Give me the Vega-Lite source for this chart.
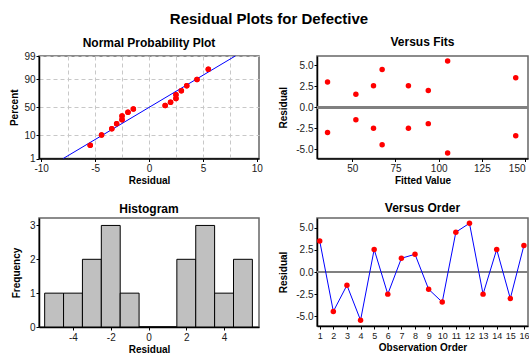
{
  "$schema": "https://vega.github.io/schema/vega-lite/v6.json",
  "padding": {"left": 8, "top": 12, "right": 0, "bottom": 0},
  "background": "white",
  "title": {"text": "Residual Plots for Defective", "font": "Liberation Sans", "fontSize": 15, "fontWeight": "bold", "color": "#000", "anchor": "middle", "offset": -4, "baseline": "alphabetic"},
  "config": {
    "locale": {"number": {"decimal": ".", "thousands": ",", "grouping": [3], "currency": ["$", ""], "minus": "-"}},
    "view": {"stroke": "#666666", "strokeWidth": 1.5},
    "axis": {"labelFont": "Liberation Sans", "labelFontSize": 10, "labelColor": "#1a1a1a", "titleFont": "Liberation Sans", "titleFontSize": 10, "titleFontWeight": "bold", "titleColor": "#000", "tickColor": "#000", "tickSize": 3, "domainColor": "#000", "domainWidth": 1.5, "grid": false, "labelPadding": 1, "labelOverlap": false, "tickCount": 30},
    "title": {"font": "Liberation Sans", "fontSize": 12, "fontWeight": "bold", "color": "#000", "baseline": "alphabetic"}
  },
  "columns": 2,
  "spacing": {"row": 59, "column": 58},
  "bounds": "flush",
  "concat": [
    {
      "title": {"text": "Normal Probability Plot", "offset": 1.5},
      "width": 220,
      "height": 102.5,
      "layer": [
        {
          "data": {"name": "npp"},
          "mark": {"type": "circle", "color": "#ff0000", "size": 30, "opacity": 1},
          "encoding": {
            "x": {"field": "residual", "type": "quantitative", "scale": {"domain": [-10.2, 10.2], "nice": false, "zero": false},
              "axis": {"title": "Residual", "values": [-10, -7.5, -5, -2.5, 0, 2.5, 5, 7.5, 10], "format": "d", "tickCount": 30, "grid": true, "gridColor": "#c8c8c8", "gridDash": [4, 3], "labelOverlap": false,
                "gridOpacity": {"condition": {"test": "abs(datum.value) >= 10", "value": 0}, "value": 1},
                "tickOpacity": {"condition": {"test": "datum.value % 5 != 0", "value": 0}, "value": 1},
                "labelExpr": "datum.value % 5 == 0 ? datum.label : ''", "labelPadding": 2, "titlePadding": 2}},
            "y": {"field": "score", "type": "quantitative", "scale": {"domain": [-2.3263, 2.3263], "nice": false, "zero": false},
              "axis": {"title": "Percent", "values": [-2.3263, -1.2816, 0, 1.2816, 2.3263], "tickCount": 30, "grid": true, "gridColor": "#c8c8c8", "gridDash": [4, 3], "labelOverlap": false,
                "labelExpr": "datum.value < -2 ? '1' : datum.value < -1 ? '10' : datum.value < 1 ? '50' : datum.value < 2 ? '90' : '99'",
                "minExtent": 13, "maxExtent": 13, "titlePadding": 7}}
          }
        },
        {
          "data": {"name": "fitline"},
          "mark": {"type": "line", "color": "#0000ff", "strokeWidth": 1},
          "encoding": {
            "x": {"field": "residual", "type": "quantitative"},
            "y": {"field": "score", "type": "quantitative"}
          }
        },
        {
          "data": {"name": "npp"},
          "mark": {"type": "circle", "color": "#ff0000", "size": 30, "opacity": 1},
          "encoding": {
            "x": {"field": "residual", "type": "quantitative"},
            "y": {"field": "score", "type": "quantitative"}
          }
        }
      ]
    },
    {
      "title": {"text": "Versus Fits", "offset": 7},
      "width": 211,
      "height": 102.5,
      "layer": [
        {
          "data": {"name": "fits"},
          "mark": {"type": "rule", "color": "#808080", "strokeWidth": 2},
          "encoding": {"y": {"datum": 0, "type": "quantitative", "scale": {"domain": [-6.1, 6.1], "nice": false, "zero": false}}}
        },
        {
          "data": {"name": "fits"},
          "mark": {"type": "circle", "color": "#ff0000", "size": 30, "opacity": 1},
          "encoding": {
            "x": {"field": "fit", "type": "quantitative", "scale": {"domain": [29.6, 151.7], "nice": false, "zero": false},
              "axis": {"title": "Fitted Value", "values": [50, 75, 100, 125, 150], "format": "d", "tickCount": 30, "labelPadding": 2, "titlePadding": 2,
                "labelAlign": {"condition": {"test": "datum.value >= 150", "value": "right"}, "value": "center"}}},
            "y": {"field": "residual", "type": "quantitative", "scale": {"domain": [-6.1, 6.1], "nice": false, "zero": false},
              "axis": {"title": "Residual", "values": [-5, -2.5, 0, 2.5, 5], "tickCount": 30, "format": ".1f", "minExtent": 18, "maxExtent": 18, "titlePadding": 11}}
          }
        }
      ]
    },
    {
      "title": {"text": "Histogram", "offset": 2.2},
      "width": 220,
      "height": 109,
      "data": {"name": "hist"},
      "mark": {"type": "bar", "fill": "#c0c0c0", "stroke": "#000", "strokeWidth": 1},
      "encoding": {
        "x": {"field": "bin_start", "type": "quantitative", "scale": {"domain": [-5.8, 5.85], "nice": false, "zero": false},
          "axis": {"title": "Residual", "values": [-4, -2, 0, 2, 4], "format": "d", "tickCount": 30, "labelPadding": 2, "titlePadding": 2}},
        "x2": {"field": "bin_end"},
        "y": {"field": "count", "type": "quantitative", "scale": {"domain": [0, 3.22], "nice": false},
          "axis": {"title": "Frequency", "values": [0, 1, 2, 3], "format": "d", "tickCount": 30, "minExtent": 10, "maxExtent": 10, "titlePadding": 8}},
        "y2": {"datum": 0}
      }
    },
    {
      "title": {"text": "Versus Order", "offset": 3.2},
      "width": 211,
      "height": 108,
      "layer": [
        {
          "data": {"name": "order"},
          "mark": {"type": "rule", "color": "#808080", "strokeWidth": 2},
          "encoding": {"y": {"datum": 0, "type": "quantitative", "scale": {"domain": [-6.1, 6.1], "nice": false, "zero": false}}}
        },
        {
          "data": {"name": "order"},
          "mark": {"type": "line", "color": "#0000ff", "strokeWidth": 1},
          "encoding": {
            "x": {"field": "obs", "type": "quantitative", "scale": {"domain": [0.8, 16.3], "nice": false, "zero": false},
              "axis": {"title": "Observation Order", "values": [1, 2, 3, 4, 5, 6, 7, 8, 9, 10, 11, 12, 13, 14, 15, 16], "format": "d", "tickCount": 30, "labelFontSize": 9, "labelPadding": 2, "titlePadding": 2}},
            "y": {"field": "residual", "type": "quantitative", "scale": {"domain": [-6.1, 6.1], "nice": false, "zero": false},
              "axis": {"title": "Residual", "values": [-5, -2.5, 0, 2.5, 5], "tickCount": 30, "format": ".1f", "minExtent": 18, "maxExtent": 18, "titlePadding": 11}}
          }
        },
        {
          "data": {"name": "order"},
          "mark": {"type": "circle", "color": "#ff0000", "size": 30, "opacity": 1},
          "encoding": {
            "x": {"field": "obs", "type": "quantitative"},
            "y": {"field": "residual", "type": "quantitative"}
          }
        }
      ]
    }
  ],
  "datasets": {
    "npp": [
      {"residual": -5.45, "score": -1.720},
      {"residual": -4.4, "score": -1.261},
      {"residual": -3.45, "score": -0.976},
      {"residual": -3.0, "score": -0.753},
      {"residual": -2.5, "score": -0.564},
      {"residual": -2.5, "score": -0.392},
      {"residual": -1.95, "score": -0.2315},
      {"residual": -1.45, "score": -0.0765},
      {"residual": 1.5, "score": 0.0765},
      {"residual": 2.0, "score": 0.2315},
      {"residual": 2.5, "score": 0.392},
      {"residual": 2.5, "score": 0.564},
      {"residual": 3.0, "score": 0.753},
      {"residual": 3.5, "score": 0.976},
      {"residual": 4.45, "score": 1.261},
      {"residual": 5.5, "score": 1.720}
    ],
    "fitline": [
      {"residual": -7.95, "score": -2.3263},
      {"residual": 8.0, "score": 2.3263}
    ],
    "fits": [
      {"fit": 35.7, "residual": 3.0}, {"fit": 35.7, "residual": -3.0},
      {"fit": 52.1, "residual": 1.55}, {"fit": 52.1, "residual": -1.5},
      {"fit": 62.3, "residual": 2.55}, {"fit": 62.3, "residual": -2.5},
      {"fit": 67.3, "residual": 4.5}, {"fit": 67.3, "residual": -4.45},
      {"fit": 82.5, "residual": 2.55}, {"fit": 82.5, "residual": -2.5},
      {"fit": 94.0, "residual": 2.0}, {"fit": 94.0, "residual": -1.95},
      {"fit": 105.2, "residual": 5.5}, {"fit": 105.2, "residual": -5.45},
      {"fit": 144.6, "residual": 3.5}, {"fit": 144.6, "residual": -3.4}
    ],
    "hist": [
      {"bin_start": -5.5, "bin_end": -4.5, "count": 1},
      {"bin_start": -4.5, "bin_end": -3.5, "count": 1},
      {"bin_start": -3.5, "bin_end": -2.5, "count": 2},
      {"bin_start": -2.5, "bin_end": -1.5, "count": 3},
      {"bin_start": -1.5, "bin_end": -0.5, "count": 1},
      {"bin_start": -0.5, "bin_end": 0.5, "count": 0},
      {"bin_start": 0.5, "bin_end": 1.5, "count": 0},
      {"bin_start": 1.5, "bin_end": 2.5, "count": 2},
      {"bin_start": 2.5, "bin_end": 3.5, "count": 3},
      {"bin_start": 3.5, "bin_end": 4.5, "count": 1},
      {"bin_start": 4.5, "bin_end": 5.5, "count": 2}
    ],
    "order": [
      {"obs": 1, "residual": 3.5},
      {"obs": 2, "residual": -4.45},
      {"obs": 3, "residual": -1.5},
      {"obs": 4, "residual": -5.45},
      {"obs": 5, "residual": 2.55},
      {"obs": 6, "residual": -2.5},
      {"obs": 7, "residual": 1.55},
      {"obs": 8, "residual": 2.0},
      {"obs": 9, "residual": -1.95},
      {"obs": 10, "residual": -3.4},
      {"obs": 11, "residual": 4.5},
      {"obs": 12, "residual": 5.5},
      {"obs": 13, "residual": -2.5},
      {"obs": 14, "residual": 2.55},
      {"obs": 15, "residual": -3.0},
      {"obs": 16, "residual": 3.0}
    ]
  }
}
